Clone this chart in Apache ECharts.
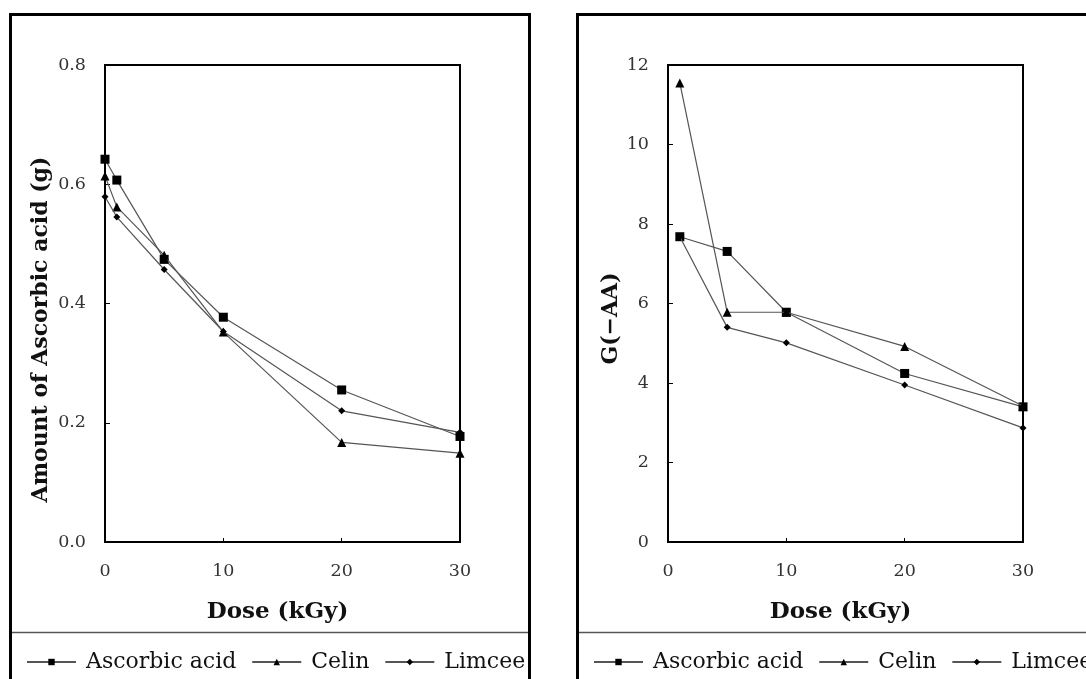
<!DOCTYPE html>
<html lang='en'>
  <head>
    <meta charset='utf-8'>
    <title>Ascorbic acid vs dose</title>
    <style>
      html, body { margin: 0; padding: 0; background: #fff; }
    </style>
  </head>
  <body>
    <div id="main" style="width:1086px;height:679px;"></div>

    <script src="https://cdn.jsdelivr.net/npm/echarts@6/dist/echarts.min.js"></script>
    <script>
      // left panel: amount of ascorbic acid
      var doseA = [0, 1, 5, 10, 20, 30];
      var ascorbicA = [0.642, 0.607, 0.474, 0.377, 0.255, 0.177];
      var celinA = [0.614, 0.562, 0.481, 0.352, 0.167, 0.149];
      var limceeA = [0.579, 0.545, 0.457, 0.353, 0.220, 0.184];

      // right panel: G(-AA)
      var doseB = [1, 5, 10, 20, 30];
      var ascorbicB = [7.68, 7.31, 5.78, 4.24, 3.40];
      var celinB = [11.55, 5.78, 5.78, 4.92, 3.42];
      var limceeB = [7.68, 5.40, 5.01, 3.95, 2.87];

      var names = ['Ascorbic acid', 'Celin', 'Limcee'];
      var symbols = ['rect', 'triangle', 'diamond'];
      var symSizes = [9, 9, 7];

      function pairs(xs, ys) {
        return xs.map(function (x, i) { return [x, ys[i]]; });
      }

      var labelFont = { fontFamily: 'DejaVu Serif', fontSize: 17.5, color: '#333' };
      var titleFont = { fontFamily: 'DejaVu Serif', fontWeight: 'bold', fontSize: 23, color: '#111' };

      function xAxisFor(idx) {
        return {
          type: 'value', gridIndex: idx, min: 0, max: 30, interval: 10,
          name: 'Dose (kGy)', nameLocation: 'middle', nameGap: 59,
          nameTextStyle: Object.assign({ padding: [0, 10, 0, 0] }, titleFont),
          axisLine: { lineStyle: { color: '#000', width: 2 } },
          axisTick: { inside: true, length: 4, lineStyle: { color: '#000', width: 1 } },
          axisLabel: Object.assign({ margin: 20 }, labelFont),
          splitLine: { show: false }
        };
      }

      function mkSeries(xIdx, xs, lists) {
        return lists.map(function (ys, i) {
          return {
            name: names[i], type: 'line',
            xAxisIndex: xIdx, yAxisIndex: xIdx,
            data: pairs(xs, ys),
            symbol: symbols[i], symbolSize: symSizes[i],
            showAllSymbol: true, clip: false,
            lineStyle: { color: '#555', width: 1.2 },
            itemStyle: { color: '#000' },
            z: 3 + i
          };
        });
      }

      var myChart = echarts.init(document.getElementById('main'));

      var legendBase = {
        data: names, orient: 'horizontal', top: 651, padding: 0, width: 700,
        itemWidth: 49, itemHeight: 8, itemGap: 15,
        textStyle: { fontFamily: 'DejaVu Serif', fontSize: 22, color: '#111', padding: [0, 0, 0, 5] },
        selectedMode: false
      };

      var option = {
        backgroundColor: '#fff',
        animation: false,
        grid: [
          { left: 105, top: 65, width: 355, height: 477, show: true, borderColor: '#000', borderWidth: 2 },
          { left: 668, top: 65, width: 355, height: 477, show: true, borderColor: '#000', borderWidth: 2 }
        ],
        xAxis: [xAxisFor(0), xAxisFor(1)],
        yAxis: [
          {
            type: 'value', gridIndex: 0, min: 0, max: 0.8, interval: 0.2,
            name: 'Amount of Ascorbic acid (g)', nameLocation: 'middle', nameGap: 53,
            nameTextStyle: Object.assign({ padding: [0, 52, 0, 0] }, titleFont, { fontSize: 22 }),
            axisLine: { lineStyle: { color: '#000', width: 2 } },
            axisTick: { inside: true, length: 5, lineStyle: { color: '#000', width: 1 } },
            axisLabel: Object.assign({ margin: 19, formatter: function (v) { return v.toFixed(1); } }, labelFont),
            splitLine: { show: false }
          },
          {
            type: 'value', gridIndex: 1, min: 0, max: 12, interval: 2,
            name: 'G(\u2212AA)', nameLocation: 'middle', nameGap: 46,
            nameTextStyle: Object.assign({ padding: [0, 30, 0, 0] }, titleFont, { fontSize: 22 }),
            axisLine: { lineStyle: { color: '#000', width: 2 } },
            axisTick: { inside: true, length: 5, lineStyle: { color: '#000', width: 1 } },
            axisLabel: Object.assign({ margin: 19 }, labelFont),
            splitLine: { show: false }
          }
        ],
        legend: [
          Object.assign({ left: 26 }, legendBase),
          Object.assign({ left: 593 }, legendBase)
        ],
        graphic: [
          // panel frames
          { type: 'rect', shape: { x: 10.5, y: 14.5, width: 519, height: 700 },
            style: { fill: 'none', stroke: '#000', lineWidth: 3 }, silent: true, z: 1 },
          { type: 'rect', shape: { x: 577.5, y: 14.5, width: 560, height: 700 },
            style: { fill: 'none', stroke: '#000', lineWidth: 3 }, silent: true, z: 1 },
          // separators above legends
          { type: 'line', shape: { x1: 11, y1: 632.5, x2: 529, y2: 632.5 },
            style: { stroke: '#555', lineWidth: 1.5 }, silent: true },
          { type: 'line', shape: { x1: 578, y1: 632.5, x2: 1086, y2: 632.5 },
            style: { stroke: '#555', lineWidth: 1.5 }, silent: true }
        ],
        series: mkSeries(0, doseA, [ascorbicA, celinA, limceeA])
          .concat(mkSeries(1, doseB, [ascorbicB, celinB, limceeB]))
      };

      myChart.setOption(option);
    </script>
  </body>
</html>
